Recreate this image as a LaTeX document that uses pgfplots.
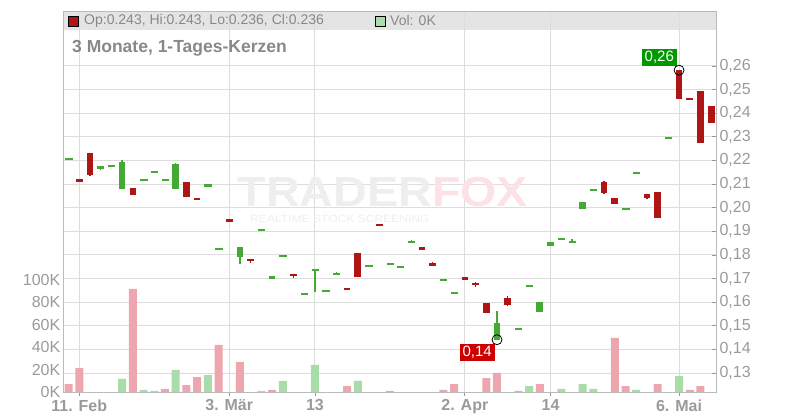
\documentclass[border=0pt]{standalone}
\usepackage{fontspec}
\setmainfont{Liberation Sans}
\usepackage{pgfplots}
\usepackage{pgfplotstable}
\pgfplotsset{compat=1.18}

\definecolor{candleup}{HTML}{44AA33}
\definecolor{candledn}{HTML}{B01515}
\definecolor{volred}{HTML}{EEA6AE}
\definecolor{volgreen}{HTML}{A8DCA8}
\definecolor{gridgray}{HTML}{DDDDDD}
\definecolor{framegray}{HTML}{BBBBBB}
\definecolor{labelgray}{HTML}{9A9A9A}
\definecolor{titlegray}{HTML}{888888}
\definecolor{bandgray}{HTML}{E4E4E4}
\definecolor{lblgreen}{HTML}{009A00}
\definecolor{lblred}{HTML}{CC0000}
\definecolor{wmgray}{HTML}{EEEEEE}
\definecolor{wmpink}{HTML}{FDE2E5}

% rising candles: trading day index, open, high, low, close
\pgfplotstableread{
i  o      h      l      c
2  0.2164 0.2176 0.2159 0.2176
3  0.2172 0.2180 0.2172 0.2180
4  0.2080 0.2200 0.2080 0.2193
9  0.2080 0.2188 0.2080 0.2184
15 0.1792 0.1833 0.1762 0.1833
18 0.1699 0.1710 0.1699 0.1710
24 0.1716 0.1727 0.1716 0.1723
30 0.1746 0.1753 0.1746 0.1753
39 0.1441 0.1562 0.1441 0.1512
43 0.1559 0.1600 0.1559 0.1600
44 0.1838 0.1854 0.1838 0.1854
47 0.1995 0.2023 0.1995 0.2023
}\upc

% falling candles
\pgfplotstableread{
i  o      h      l      c
0  0.2121 0.2121 0.2109 0.2109
1  0.2231 0.2231 0.2135 0.2139
5  0.2083 0.2083 0.2054 0.2054
10 0.2108 0.2108 0.2046 0.2046
11 0.2040 0.2040 0.2033 0.2033
14 0.1951 0.1951 0.1940 0.1940
16 0.1782 0.1782 0.1767 0.1775
20 0.1719 0.1719 0.1703 0.1712
25 0.1660 0.1660 0.1652 0.1652
26 0.1808 0.1808 0.1707 0.1707
28 0.1930 0.1930 0.1922 0.1924
32 0.1833 0.1833 0.1822 0.1822
33 0.1765 0.1770 0.1754 0.1754
36 0.1706 0.1706 0.1695 0.1695
37 0.1681 0.1685 0.1665 0.1672
38 0.1596 0.1596 0.1555 0.1555
40 0.1617 0.1626 0.1583 0.1588
49 0.2108 0.2112 0.2058 0.2064
50 0.2040 0.2040 0.2016 0.2016
53 0.2057 0.2057 0.2037 0.2043
54 0.2066 0.2066 0.1957 0.1957
56 0.2582 0.2582 0.2460 0.2460
57 0.2463 0.2463 0.2456 0.2456
58 0.2493 0.2493 0.2274 0.2274
59 0.2430 0.2430 0.2360 0.2360
}\dnc

% flat candles (open = close)
\pgfplotstableread{
i  p
-1 0.2207
6  0.2119
7  0.2153
8  0.2119
12 0.2095
13 0.1827
17 0.1908
19 0.1798
21 0.1637
22 0.1739
23 0.1650
27 0.1756
29 0.1764
31 0.1857
34 0.1696
35 0.1641
41 0.1489
42 0.1671
45 0.1868
46 0.1855
48 0.2077
51 0.1997
52 0.2149
55 0.2297
}\flat

% wicks of flat candles
\pgfplotstableread{
i  h      l
22 0.1739 0.1641
27 0.1756 0.1752
31 0.1863 0.1853
46 0.1866 0.1855
}\flatw

% volume in thousands
\pgfplotstableread{
i  v
-1 7.1
0  21.3
5  91.6
8  2.7
10 6.2
11 13.3
13 41.8
15 26.7
18 1.8
25 5.3
29 0.9
34 1.8
35 7.1
38 12.4
39 16.9
41 0.9
43 7.1
50 48.0
51 5.3
54 7.1
57 1.8
58 5.3
}\volr

\pgfplotstableread{
i  v
4  11.6
6  1.8
7  1.0
9  19.6
12 15.1
17 1.0
19 9.8
22 24.0
26 9.8
42 5.3
45 2.7
47 7.1
48 2.7
52 1.8
56 14.2
}\volg

\pgfplotsset{
  base/.style={
    at={(63pt,409pt)}, anchor=north west, scale only axis,
    width=653pt, height=381pt,
    xmin=-1.522, xmax=59.45,
  },
  stick/.style 2 args={draw=none, mark=none, error bars/.cd, y dir=plus, y explicit,
    error mark=none, error bar style={draw=#1, line width=#2}},
}

\begin{document}
\begin{tikzpicture}
\useasboundingbox (0pt,0pt) rectangle (800pt,420pt);

% header band
\fill[bandgray] (63pt,390pt) rectangle (716pt,409pt);

\begin{axis}[base,
  ymin=0.12196, ymax=0.28326,
  axis line style={draw=framegray},
  grid=major, major grid style={draw=gridgray, line width=1pt},
  xtick={0,14,22,36,44,56},
  xticklabels={11. Feb, 3. Mär, 13, 2. Apr, 14, 6. Mai},
  ytick={0.13,0.14,0.15,0.16,0.17,0.18,0.19,0.20,0.21,0.22,0.23,0.24,0.25,0.26},
  xtick pos=bottom, ytick pos=right,
  xtick align=outside, ytick align=inside,
  major tick length=4pt,
  tick style={draw=gray!80, line width=0.8pt},
  x tick label style={font=\fontsize{16}{18}\bfseries, text=labelgray},
  y tick label style={font=\fontsize{16}{18}\selectfont, text=labelgray, anchor=west},
  yticklabel style={/pgf/number format/.cd, fixed, fixed zerofill, precision=2, use comma, assume math mode=true},
]
\end{axis}

% watermark
\node[anchor=east, inner sep=0pt, xscale=1.11, text=wmgray,
  font=\fontsize{42}{42}\bfseries] at (432pt,228pt) {TRADER};
\node[anchor=west, inner sep=0pt, xscale=1.11, text=wmpink,
  font=\fontsize{42}{42}\bfseries] at (432pt,228pt) {FOX};
\node[anchor=west, inner sep=0pt, xscale=1.15, text=wmgray,
  font=\fontsize{10.5}{11}\selectfont] at (250pt,201pt) {REALTIME STOCK SCREENING};

% volume
\begin{axis}[base,
  ymin=0, ymax=338.667,
  axis line style={draw=none},
  xtick=\empty,
  ytick={0,20,40,60,80,100},
  yticklabels={0K,20K,40K,60K,80K,100K},
  ytick pos=left, major tick length=0pt,
  y tick label style={font=\fontsize{16}{18}\selectfont, text=labelgray, inner xsep=2.5pt},
]
\addplot[ybar, bar width=8pt, bar shift=0pt, fill=volred, draw=none] table[x=i, y=v] {\volr};
\addplot[ybar, bar width=8pt, bar shift=0pt, fill=volgreen, draw=none] table[x=i, y=v] {\volg};
\end{axis}

% candles
\begin{axis}[base,
  ymin=0.12196, ymax=0.28326,
  hide axis,
]
% wicks
\addplot[stick={candleup}{1.3pt}] table[x=i, y=l, y error expr=\thisrow{h}-\thisrow{l}] {\upc};
\addplot[stick={candledn}{1.3pt}] table[x=i, y=l, y error expr=\thisrow{h}-\thisrow{l}] {\dnc};
\addplot[stick={candleup}{1.3pt}] table[x=i, y=l, y error expr=\thisrow{h}-\thisrow{l}] {\flatw};
% bodies
\addplot[stick={candleup}{6.7pt}] table[x=i, y=o, y error expr=\thisrow{c}-\thisrow{o}] {\upc};
\addplot[stick={candledn}{6.7pt}] table[x=i, y=c, y error expr=\thisrow{o}-\thisrow{c}] {\dnc};
% flat candles as thin dashes
\addplot[candleup, only marks, mark=square*, mark size=3.2pt,
  mark options={yscale=0.2, line width=0.3pt}] table[x=i, y=p] {\flat};
% high / low markers
\addplot[black, only marks, mark=o, mark size=5pt, mark options={line width=0.8pt}]
  coordinates {(56,0.2582) (39,0.1441)};
\node[fill=lblgreen, text=white, anchor=south east, inner xsep=3pt, inner ysep=2.5pt,
  font=\fontsize{15}{15}\selectfont, xshift=-2pt, yshift=4pt] at (axis cs:56,0.2582) {0,26};
\node[fill=lblred, text=white, anchor=north east, inner xsep=3pt, inner ysep=2.5pt,
  font=\fontsize{15}{15}\selectfont, xshift=-2pt, yshift=-4pt] at (axis cs:39,0.1441) {0,14};
\end{axis}

% frame top line
\draw[framegray, line width=0.8pt] (63pt,409pt) -- (716pt,409pt);

% header legend
\filldraw[fill=candledn, draw=black, line width=0.8pt] (68.5pt,394pt) rectangle (78.5pt,404pt);
\node[anchor=west, inner sep=0pt, text=titlegray, font=\fontsize{14}{14}\selectfont]
  at (84pt,399pt) {Op:0.243, Hi:0.243, Lo:0.236, Cl:0.236};
\filldraw[fill=volgreen, draw=black, line width=0.8pt] (375pt,394pt) rectangle (385pt,404pt);
\node[anchor=west, inner sep=0pt, text=titlegray, font=\fontsize{14}{14}\selectfont]
  at (390pt,399pt) {Vol: 0K};

% title
\node[anchor=west, inner sep=0pt, text=titlegray, font=\fontsize{17.5}{18}\bfseries]
  at (72pt,372pt) {3 Monate, 1-Tages-Kerzen};

\end{tikzpicture}
\end{document}
